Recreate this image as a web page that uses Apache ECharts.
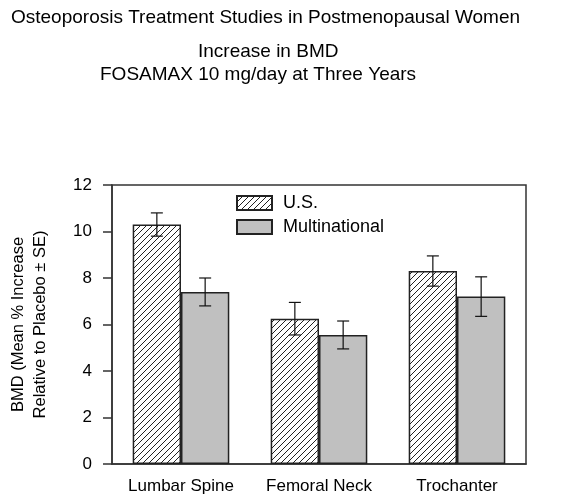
<!DOCTYPE html>
<html><head><meta charset="utf-8">
<script src="https://cdn.jsdelivr.net/npm/echarts@6/dist/echarts.min.js"></script>
<style>html,body{margin:0;padding:0;background:#fff}#c{width:561px;height:495px}</style>
</head><body><div id="c"></div>
<script>
const categories = ['Lumbar Spine', 'Femoral Neck', 'Trochanter'];
const seriesNames = ['U.S.', 'Multinational'];
const usValues = [10.3, 6.25, 8.3];
const usErrors = [0.5, 0.7, 0.65];
const mnValues = [7.4, 5.55, 7.2];
const mnErrors = [0.6, 0.6, 0.85];
const yTickLabels = ['0', '2', '4', '6', '8', '10', '12'];
const titleLines = ['Osteoporosis Treatment Studies in Postmenopausal Women', 'Increase in BMD', 'FOSAMAX 10 mg/day at Three Years'];
const yAxisName = 'BMD (Mean % Increase\nRelative to Placebo ± SE)';

const FONT = "'Liberation Sans', Arial, sans-serif";
const CAT_GAP = 0.30;

function hatchPattern() {
  const s = 6;
  const cv = document.createElement('canvas');
  cv.width = s; cv.height = s;
  const ctx = cv.getContext('2d');
  ctx.fillStyle = '#fff';
  ctx.fillRect(0, 0, s, s);
  ctx.strokeStyle = '#222';
  ctx.lineWidth = 1;
  ctx.beginPath();
  ctx.moveTo(-1, s + 1); ctx.lineTo(s + 1, -1);
  ctx.moveTo(-1, 1); ctx.lineTo(1, -1);
  ctx.moveTo(s - 1, s + 1); ctx.lineTo(s + 1, s - 1);
  ctx.stroke();
  return cv;
}

const hatch = { image: hatchPattern(), repeat: 'repeat' };
const gray = '#c0c0c0';

function errData(vals, errs) {
  return vals.map((v, i) => [i, v, errs[i]]);
}

function errRender(side) {
  return function (params, api) {
    const ci = api.value(0), v = api.value(1), e = api.value(2);
    const band = api.size([1, 0])[0];
    const bw = band * (1 - CAT_GAP) / 2;
    const c = api.coord([ci, v]);
    const x = c[0] + side * bw / 2;
    const yt = api.coord([ci, v + e])[1];
    const yb = api.coord([ci, v - e])[1];
    const cap = 6;
    const st = { stroke: '#111', lineWidth: 1.2 };
    return {
      type: 'group',
      children: [
        { type: 'line', shape: { x1: x, y1: yt, x2: x, y2: yb }, style: st },
        { type: 'line', shape: { x1: x - cap, y1: yt, x2: x + cap, y2: yt }, style: st },
        { type: 'line', shape: { x1: x - cap, y1: yb, x2: x + cap, y2: yb }, style: st }
      ]
    };
  };
}

const titleStyle = { fontFamily: FONT, fontSize: 19, fontWeight: 'normal', color: '#000' };
const chart = echarts.init(document.getElementById('c'), null, { renderer: 'canvas' });
chart.setOption({
  backgroundColor: '#fff',
  animation: false,
  textStyle: { fontFamily: FONT },
  title: [
    { text: titleLines[0], left: 6, top: 3, textStyle: titleStyle },
    { text: titleLines[1], left: 193, top: 37, textStyle: titleStyle },
    { text: titleLines[2], left: 95, top: 60, textStyle: titleStyle }
  ],
  legend: {
    orient: 'vertical', left: 231, top: 189, itemWidth: 35, itemHeight: 14, itemGap: 6,
    data: seriesNames,
    icon: 'rect',
    textStyle: { fontFamily: FONT, fontSize: 18, lineHeight: 18, color: '#000', padding: [0, 0, 0, 6] }
  },
  grid: { left: 112, right: 35, top: 185, bottom: 31, containLabel: false, outerBoundsMode: 'none',
    show: true, borderColor: '#333', borderWidth: 1.5, backgroundColor: 'transparent' },
  xAxis: {
    type: 'category', data: categories,
    axisLine: { lineStyle: { color: '#333', width: 1.5 } },
    axisTick: { show: false },
    axisLabel: { fontFamily: FONT, fontSize: 17, color: '#000', margin: 14, interval: 0, hideOverlap: false }
  },
  yAxis: {
    type: 'value', min: 0, max: 12, interval: 2,
    name: yAxisName, nameLocation: 'middle', nameRotate: 90, nameGap: 61,
    nameTextStyle: { fontFamily: FONT, fontSize: 16.5, color: '#000', lineHeight: 22, align: 'center' },
    axisLine: { show: true, lineStyle: { color: '#333', width: 1.5 } },
    axisTick: { show: true, length: 9, lineStyle: { color: '#333', width: 1.5 } },
    splitLine: { show: false },
    axisLabel: { fontFamily: FONT, fontSize: 17, color: '#000', margin: 20,
      formatter: (v) => yTickLabels[Math.round(v / 2)] }
  },
  series: [
    { name: seriesNames[0], type: 'bar', data: usValues, barGap: '0%', barCategoryGap: (CAT_GAP * 100) + '%',
      itemStyle: { color: hatch, borderColor: '#222', borderWidth: 1.5 } },
    { name: seriesNames[1], type: 'bar', data: mnValues,
      itemStyle: { color: gray, borderColor: '#222', borderWidth: 1.5 } },
    { type: 'custom', data: errData(usValues, usErrors), renderItem: errRender(-1), z: 10, silent: true,
      encode: { x: 0, y: [1] } },
    { type: 'custom', data: errData(mnValues, mnErrors), renderItem: errRender(1), z: 10, silent: true,
      encode: { x: 0, y: [1] } }
  ]
});
</script>
</body></html>
